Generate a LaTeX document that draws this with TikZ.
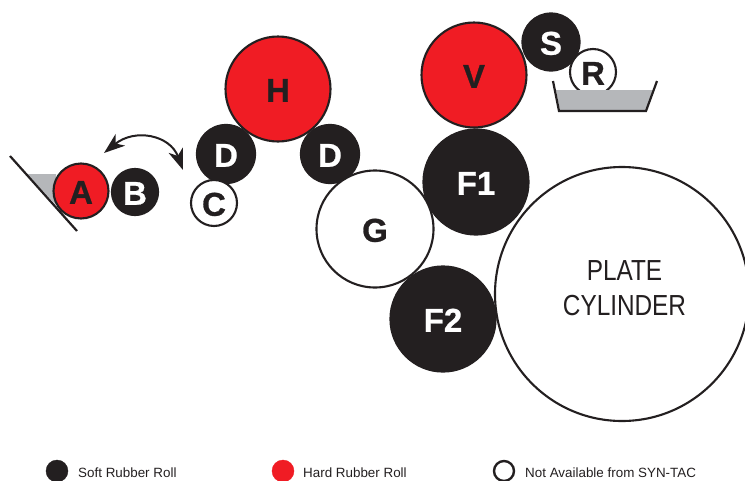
\documentclass[tikz,border=0pt]{standalone}
\usepackage{fontspec}
\setmainfont{Liberation Sans}
\newfontfamily\rollfont[BoldFeatures={FakeBold=0.8}]{Liberation Sans}
\usetikzlibrary{arrows.meta}

\definecolor{rollblack}{HTML}{231F20}
\definecolor{rollred}{HTML}{F01C24}
\definecolor{traygray}{HTML}{B5B7BA}

\tikzset{
  roll/.style={circle, inner sep=0, text height=25.5, text depth=0, font=\fontsize{33}{33}\rollfont\bfseries},
  soft/.style={roll, draw=rollblack, fill=rollblack, line width=1.2, text=white},
  hard/.style={roll, draw=rollblack, fill=rollred, line width=2.1, text=rollblack},
  notavail/.style={roll, draw=rollblack, fill=white, line width=2.1, text=rollblack},
  legendmark/.style={circle, draw=rollblack, minimum size=22, inner sep=0},
  legendtext/.style={anchor=west, text=rollblack, font=\fontsize{13.4}{13.4}\selectfont, inner sep=0}
}

\begin{document}
\begin{tikzpicture}[x=1pt, y=-1pt]

\useasboundingbox (0,0) rectangle (745,480);

% trays %
\fill[traygray] (27,174) -- (56,174) -- (56,205) -- cycle;
\draw[rollblack, line width=2.2] (10,156) -- (77,231);

% rolls %
\node[circle, draw=rollblack, fill=white, line width=2.1, inner sep=0, minimum size=254] (plate) at (622,294) {};
\node[text=rollblack, align=center, font=\fontsize{29}{35}\selectfont, xscale=0.84, inner sep=0] (platel) at (624.5,288.5) {PLATE\\CYLINDER};
\node[notavail, minimum size=46] (r) at (593,72) {R};
\node[soft, minimum size=58] (s) at (551,42) {S};
\node[hard, minimum size=105] (v) at (474,75) {V};
\node[hard, minimum size=105] (h) at (278,89) {H};
\node[soft, minimum size=59] (d1) at (226,154) {D};
\node[soft, minimum size=59] (d2) at (330,154) {D};
\node[notavail, minimum size=46] (c) at (214,203) {C};
\node[hard, minimum size=55] (a) at (81,191) {A};
\node[soft, minimum size=47] (b) at (135,192) {B};
\node[notavail, minimum size=117] (g) at (375,229) {G};
\node[soft, minimum size=106] (f1) at (476,182) {F1};
\node[soft, minimum size=106] (f2) at (443,319) {F2};

% tray over r %
\fill[traygray] (556,90) -- (654,90) -- (645,111) -- (560,111) -- cycle;
\draw[rollblack, line width=2.2] (553,81) -- (559,111) -- (646,111) -- (657,81);

% edges %
\coordinate (swingl) at (104,153);
\coordinate (swingr) at (183,170);
\draw[{Stealth[length=21, width=15, inset=6]}-{Stealth[length=21, width=15, inset=6]}, rollblack, line width=2] (swingl) .. controls (135,128) and (170,135) .. (swingr);

% legend %
\node[legendmark, fill=rollblack] (softm) at (57,471) {};
\node[legendmark, fill=rollred, draw=rollred] (hardm) at (283,471) {};
\node[legendmark, fill=white, line width=2.4, minimum size=20] (nonem) at (504,471) {};
\node[legendtext] (softl) at (78,473) {Soft Rubber Roll};
\node[legendtext] (hardl) at (303,473) {Hard Rubber Roll};
\node[legendtext] (nonel) at (525,473) {Not Available from SYN-TAC};

\end{tikzpicture}
\end{document}
